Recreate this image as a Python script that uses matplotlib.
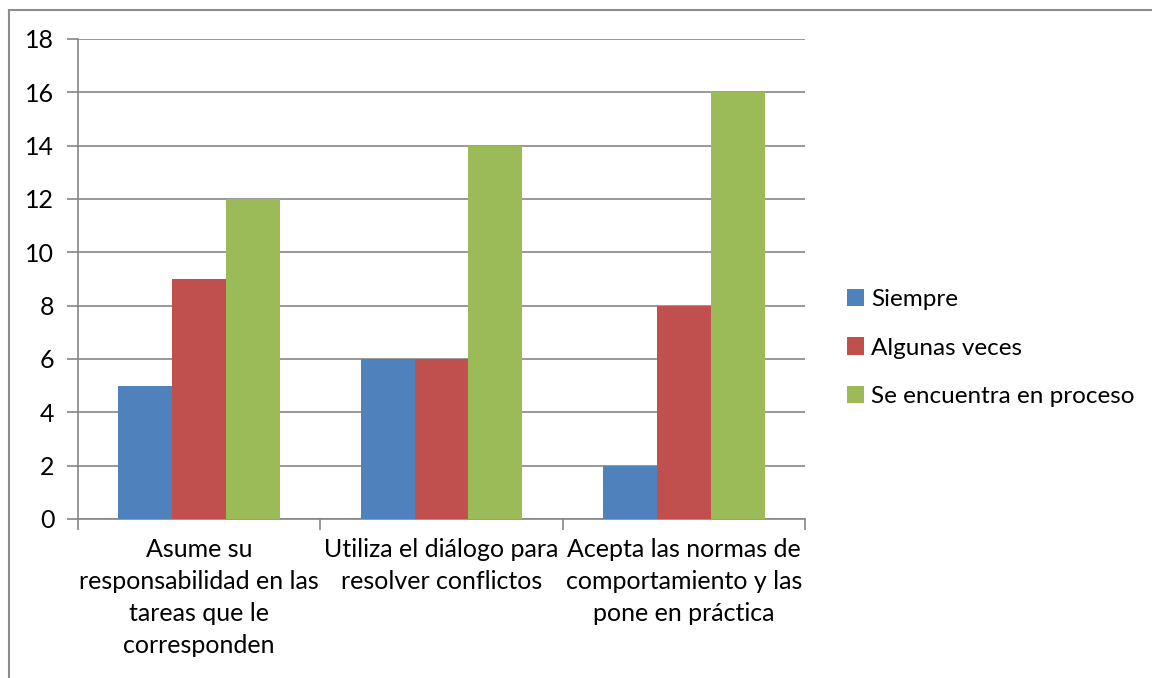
import numpy as np
import matplotlib
matplotlib.use('Agg')
import matplotlib.pyplot as plt
from matplotlib.lines import Line2D

# DATA
categories = ['Asume su\nresponsabilidad en las\ntareas que le\ncorresponden',
              'Utiliza el diálogo para\nresolver conflictos',
              'Acepta las normas de\ncomportamiento y las\npone en práctica']
series_names = ['Siempre', 'Algunas veces', 'Se encuentra en proceso']
siempre = [5, 6, 2]
algunas = [9, 6, 8]
proceso = [12, 14, 16]
y_ticks = [0, 2, 4, 6, 8, 10, 12, 14, 16, 18]

colors = ['#4F81BD', '#C0504D', '#9BBB59']
grid_col = '#868686'

plt.rcParams['font.family'] = ['Lato', 'DejaVu Sans']

fig = plt.figure(figsize=(11.52, 6.78), dpi=100)
ax = fig.add_axes([78 / 1152, 1 - 519 / 678, (805 - 78) / 1152, (519 - 39) / 678])

# outer chart border (top and left visible)
fig.add_artist(Line2D([9 / 1152, 9 / 1152], [0, 1 - 10 / 678], transform=fig.transFigure,
                      color='#8c8c8c', lw=1.5))
fig.add_artist(Line2D([9 / 1152, 1], [1 - 10 / 678, 1 - 10 / 678], transform=fig.transFigure,
                      color='#8c8c8c', lw=1.5))

x = np.arange(len(categories))
w = 1 / 4.5
for i, vals in enumerate([siempre, algunas, proceso]):
    ax.bar(x + (i - 1) * w, vals, width=w, color=colors[i], label=series_names[i], zorder=3)

ax.set_xlim(-0.5, 2.5)
ax.set_ylim(0, 18)
ax.set_yticks(y_ticks)
ax.yaxis.grid(True, color=grid_col, lw=1.2, zorder=0)

for s in ['top', 'right']:
    ax.spines[s].set_visible(False)
for s in ['left', 'bottom']:
    ax.spines[s].set_color(grid_col)
    ax.spines[s].set_linewidth(1.2)

ax.set_xticks([-0.5, 0.5, 1.5, 2.5])
ax.set_xticklabels([])
ax.set_xticks(x, minor=True)
ax.set_xticklabels(categories, minor=True, fontsize=18, linespacing=1.47)
ax.tick_params(axis='x', which='major', length=8, color=grid_col, width=1.2)
ax.tick_params(axis='x', which='minor', length=0, pad=14)
ax.tick_params(axis='y', length=8, color=grid_col, width=1.2, labelsize=18, pad=9)

ax.legend(loc='center left', bbox_to_anchor=(825 / 1152, 1 - 348 / 678),
          bbox_transform=fig.transFigure, frameon=False, fontsize=17.5,
          handlelength=0.7, handleheight=0.7, handletextpad=0.3, labelspacing=1.15)

fig.savefig('out.png', dpi=100)
